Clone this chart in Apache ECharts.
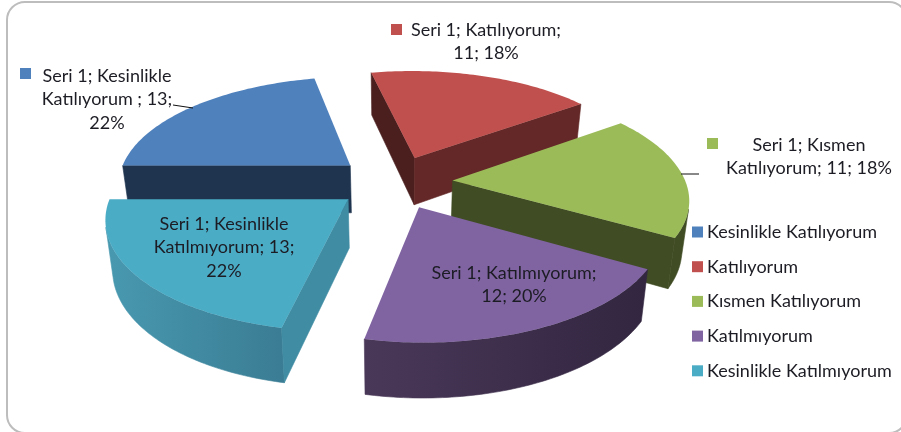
<!DOCTYPE html>
<html><head><meta charset="utf-8">
<style>html,body{margin:0;padding:0;background:#fff}#c{width:901px;height:432px}</style>
<script src="https://cdn.jsdelivr.net/npm/echarts@6/dist/echarts.min.js"></script>
</head><body><div id="c"></div>
<script>
// ---- data ----
const seriesLabel = 'Seri 1';
const categories = ['Kesinlikle Katılıyorum','Katılıyorum','Kısmen Katılıyorum','Katılmıyorum','Kesinlikle Katılmıyorum'];
const values = [13, 11, 11, 12, 13];
const labelLines = [
  ['Seri 1; Kesinlikle','Katılıyorum ; 13;','22%'],
  ['Seri 1; Katılıyorum;','11; 18%'],
  ['Seri 1; Kısmen','Katılıyorum; 11; 18%'],
  ['Seri 1; Katılmıyorum;','12; 20%'],
  ['Seri 1; Kesinlikle','Katılmıyorum; 13;','22%']
];
// ---- styles ----
const topColors = ['#4F81BD','#C0504D','#9BBB59','#8064A2','#4BACC6'];
const wallA = ['#1F344F','#4A1F1E','#404C24','#3A2C4A','#3F8CA3'];
const wallB = ['#1F344F','#632827','#404C24','#3A2C4A','#3F8CA3'];
const arcL  = ['#1F344F','#632827','#404C24','#4A3859','#4899B0'];
const arcR  = ['#1F344F','#632827','#404C24','#322640','#3A7C93'];
const drawZ = [2,1,3,4,5];
const labelBox = [
  {cx:107,y:76,key:[20,68]},
  {cx:486,y:30,key:[391,24]},
  {cx:809,y:145,key:[707,138]},
  {cx:514,y:273},
  {cx:224,y:224}
];
const leaders = {0:[[173,105],[193,108]],2:[[681,174],[699,174]]};
const FONT = 'Lato, "Open Sans", sans-serif';
const TEXT = '#1c1c24';
// ---- projection ----
const CX=394.5, CY=182, A=233, B=106.6, PERSP=0.15, EXPL=0.25, DEPTH=48, SHRINK=0.975;
function proj(u,v,down){
  const w=1+PERSP*v; let x=CX+A*u/w, y=CY-B*v/w;
  if(down){x=CX+(x-CX)*SHRINK; y+=DEPTH/(1+0.11*v);}
  return [x,y];
}
const total=values.reduce((a,b)=>a+b,0);
const START=270;
function sliceAngles(i){
  let s=START; for(let k=0;k<i;k++) s+=values[k]/total*360;
  return [s,s+values[i]/total*360];
}
const rad=d=>d*Math.PI/180;
function visible(a,b,ad,bd){
  const q=[a,b,bd,ad]; let s=0;
  for(let i=0;i<4;i++){const p=q[i],n=q[(i+1)%4]; s+=p[0]*n[1]-n[0]*p[1];}
  return s<0;
}
function renderSlice(i){
  return function(params,api){
    const [ts,te]=sliceAngles(i);
    const mid=(ts+te)/2;
    const ox=EXPL*Math.sin(rad(mid)), oy=EXPL*Math.cos(rad(mid));
    const on=(t)=>[ox+Math.sin(rad(t)),oy+Math.cos(rad(t))];
    const P=(t,d)=>{const c=on(t);return proj(c[0],c[1],d);};
    const apexT=proj(ox,oy,false), apexB=proj(ox,oy,true);
    const kids=[];
    const top=[apexT];
    const n=Math.ceil(te-ts);
    const angs=[];
    for(let k=0;k<=n;k++){angs.push(ts+(te-ts)*k/n);}
    angs.forEach(t=>top.push(P(t,false)));
    let upper=[],lower=[];
    for(let k=0;k<n;k++){
      const a=P(angs[k],false),b=P(angs[k+1],false),ad=P(angs[k],true),bd=P(angs[k+1],true);
      if(visible(a,b,ad,bd)){ if(!upper.length){upper.push(a);lower.push(ad);} upper.push(b);lower.push(bd);}
    }
    if(upper.length){
      const g=new echarts.graphic.LinearGradient(0,0,1,0,[{offset:0,color:arcL[i]},{offset:1,color:arcR[i]}]);
      kids.push({type:'polygon',shape:{points:upper.concat(lower.reverse())},style:{fill:g,stroke:g,lineWidth:0.6}});
    }
    const s=P(ts,false),sd=P(ts,true),e=P(te,false),ed=P(te,true);
    if(visible(apexT,s,apexB,sd)) kids.push({type:'polygon',shape:{points:[apexT,s,sd,apexB]},style:{fill:wallA[i],stroke:wallA[i],lineWidth:0.6}});
    if(visible(e,apexT,ed,apexB)) kids.push({type:'polygon',shape:{points:[e,apexT,apexB,ed]},style:{fill:wallB[i],stroke:wallB[i],lineWidth:0.6}});
    kids.push({type:'polygon',shape:{points:top},style:{fill:topColors[i]}});
    if(leaders[i]) kids.push({type:'polyline',shape:{points:leaders[i]},style:{stroke:'#111',lineWidth:1,fill:null}});
    const box=labelBox[i];
    if(box.key) kids.push({type:'rect',shape:{x:box.key[0],y:box.key[1],width:11,height:11},style:{fill:topColors[i]}});
    labelLines[i].forEach((t,k)=>kids.push({type:'text',style:{text:t,x:box.cx,y:box.y+k*23.5,
      align:'center',verticalAlign:'middle',font:'18px '+FONT,fill:TEXT}}));
    return {type:'group',children:kids};
  };
}
const chart=echarts.init(document.getElementById('c'),null,{renderer:'canvas'});
chart.setOption({
  animation:false,
  backgroundColor:'#fff',
  graphic:[{type:'rect',shape:{x:7,y:2,width:900,height:431,r:18},style:{fill:'none',stroke:'#BDBDBD',lineWidth:2},z:-1}],
  legend:{orient:'vertical',left:692,top:223,padding:0,itemWidth:11,itemHeight:11,itemGap:16.7,icon:'rect',
    data:categories,selectedMode:false,
    textStyle:{fontFamily:FONT,fontSize:18,color:TEXT,padding:[0,0,0,-1]}},
  series:categories.map((c,i)=>({
    type:'custom',name:c,coordinateSystem:'none',silent:true,z:drawZ[i],
    itemStyle:{color:topColors[i]},
    data:[[values[i]]],
    renderItem:renderSlice(i)
  }))
});
</script></body></html>
